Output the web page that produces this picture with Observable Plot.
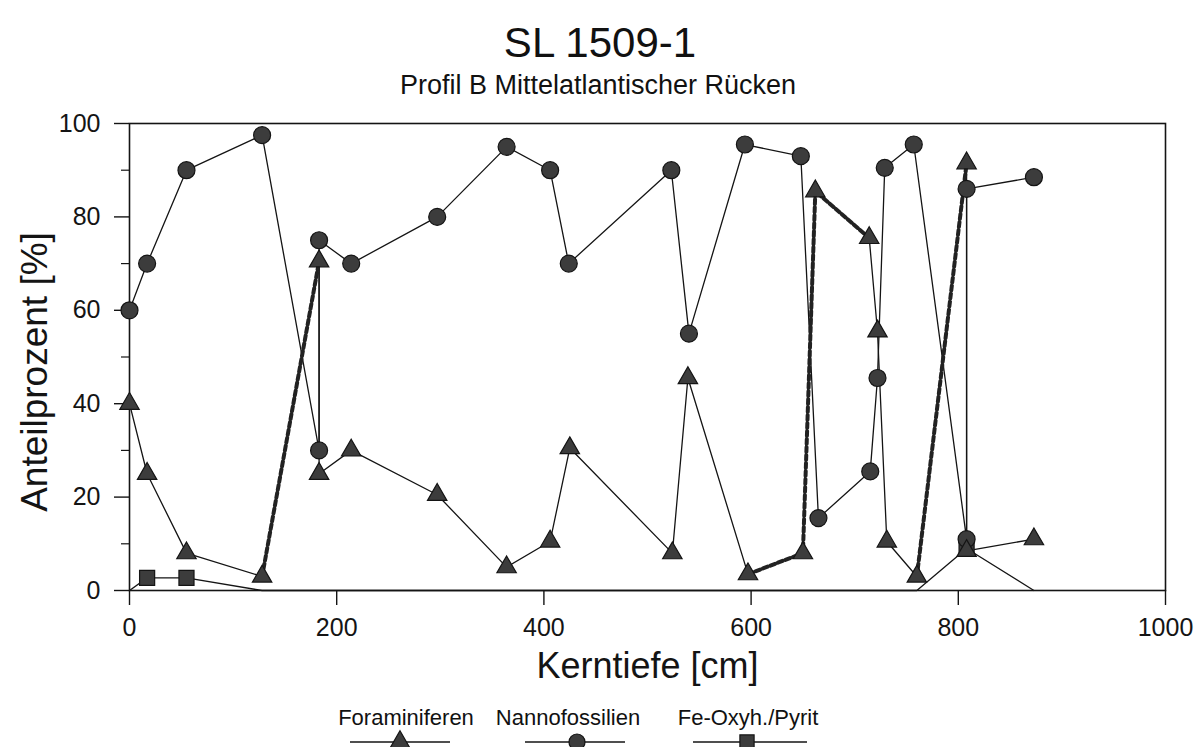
<!DOCTYPE html>
<html><head><meta charset="utf-8">
<script src="https://cdn.jsdelivr.net/npm/d3@7"></script>
<script src="https://cdn.jsdelivr.net/npm/@observablehq/plot@0.6"></script>
<style>
html,body{margin:0;padding:0;background:#fff;}
#wrap{position:relative;width:1200px;height:747px;overflow:hidden;font-family:"Liberation Sans",Arial,sans-serif;color:#111;}
#wrap svg{position:absolute;left:0;top:0;}
.t{position:absolute;white-space:nowrap;line-height:1;transform:translateX(-50%);}
</style></head><body><div id="wrap"></div>
<script>
// ---- data ----
const title = "SL 1509-1";
const subtitle = "Profil B Mittelatlantischer Rücken";
const xLabel = "Kerntiefe [cm]";
const yLabel = "Anteilprozent [%]";
const xTicks = [0, 200, 400, 600, 800, 1000];
const yTicks = [0, 20, 40, 60, 80, 100];
const yMinorTicks = [10, 30, 50, 70, 90];
const seriesNames = ["Foraminiferen", "Nannofossilien", "Fe-Oxyh./Pyrit"];

const foramDepth = [0, 17, 55, 128, 183, 183, 214, 297, 364, 406, 425, 524, 539, 597, 650, 662, 714, 722, 731, 760, 808, 808, 873];
const foramValue = [40, 25, 8, 3, 70.5, 25, 30, 20.5, 5, 10.5, 30.5, 8, 45.5, 3.5, 8, 85.5, 75.5, 55.5, 10.5, 3, 91.5, 8.5, 11];
// segments of the Foraminiferen curve drawn as a heavy dashed line (index ranges)
const foramDashedRuns = [[3, 4], [13, 16], [19, 20]];

const nannoDepth = [0, 17, 55, 128, 183, 183, 214, 297, 364, 406, 424, 523, 540, 594, 648, 665, 715, 722, 729, 757, 808, 808, 873];
const nannoValue = [60, 70, 90, 97.5, 30, 75, 70, 80, 95, 90, 70, 90, 55, 95.5, 93, 15.5, 25.5, 45.5, 90.5, 95.5, 11, 86, 88.5];

const feDepth = [0, 17, 55, 128, 760, 808, 873];
const feValue = [0, 2.7, 2.7, 0, 0, 9, 0];

// ---- rows ----
const foramRows = foramDepth.map((d, i) => ({depth: d, value: foramValue[i]}));
const nannoRows = nannoDepth.map((d, i) => ({depth: d, value: nannoValue[i]}));
const feRows = feDepth.map((d, i) => ({depth: d, value: feValue[i]}));
const dashedRows = foramDashedRuns.flatMap(([a, b], k) => foramRows.slice(a, b + 1).map(r => ({...r, run: k})));

const ink = "#141414";
const markFill = "#3c3c3c";
const font = '"Liberation Sans", Arial, Helvetica, sans-serif';

const chart = Plot.plot({
  width: 1200, height: 700,
  marginTop: 123, marginBottom: 110, marginLeft: 129, marginRight: 35,
  x: {domain: [0, 1000]},
  y: {domain: [0, 100]},
  style: {fontFamily: font, fontSize: "25px", color: ink, background: "transparent", overflow: "visible"},
  marks: [
    Plot.frame({stroke: ink, strokeWidth: 1.6}),
    Plot.axisX({ticks: xTicks, tickSize: 15, tickPadding: 13, tickFormat: d => String(d), label: null, fontSize: 25, strokeWidth: 1.4}),
    Plot.axisY({ticks: yTicks, tickSize: 15, tickPadding: 14, tickFormat: d => String(d), label: null, fontSize: 25, strokeWidth: 1.4}),
    Plot.axisY({ticks: yMinorTicks, tickSize: 8, tickFormat: () => "", label: null, strokeWidth: 1.2}),
    Plot.line(feRows, {x: "depth", y: "value", stroke: ink, strokeWidth: 1.3}),
    Plot.line(nannoRows, {x: "depth", y: "value", stroke: ink, strokeWidth: 1.3}),
    Plot.line(foramRows, {x: "depth", y: "value", stroke: ink, strokeWidth: 1.3}),
    Plot.line(dashedRows, {x: "depth", y: "value", z: "run", stroke: "#222", strokeWidth: 4, strokeDasharray: "5,3"}),
    Plot.dot(feRows.filter(d => d.value > 0), {x: "depth", y: "value", symbol: "square", r: 8.5, fill: markFill, stroke: ink, strokeWidth: 1.2}),
    Plot.dot(nannoRows, {x: "depth", y: "value", symbol: "circle", r: 8.5, fill: markFill, stroke: ink, strokeWidth: 1.2}),
    Plot.dot(foramRows, {x: "depth", y: "value", symbol: "triangle", r: 7.2, fill: markFill, stroke: ink, strokeWidth: 1.2}),
    Plot.text([xLabel], {frameAnchor: "bottom", dy: 87, fontSize: 36, fill: ink}),
    Plot.text([yLabel], {frameAnchor: "left", textAnchor: "middle", dx: -94, dy: 15, rotate: -90, fontSize: 37, fill: ink})
  ]
});

const wrap = document.getElementById("wrap");
wrap.appendChild(chart);

function addText(txt, x, top, size) {
  const d = document.createElement("div");
  d.className = "t";
  d.textContent = txt;
  d.style.left = x + "px";
  d.style.top = top + "px";
  d.style.fontSize = size + "px";
  wrap.appendChild(d);
}
addText(title, 600, 22, 42);
addText(subtitle, 598, 72, 27);

// legend
const legendCenters = [406, 568, 748];
const legendLines = [[350, 450, 400], [525, 625, 577], [693, 807, 747]];
const legendSymbols = ["triangle", "circle", "square"];
seriesNames.forEach((n, i) => addText(n, legendCenters[i], 707, 22));
const NS = "http://www.w3.org/2000/svg";
const lg = document.createElementNS(NS, "svg");
lg.setAttribute("width", 1200); lg.setAttribute("height", 47);
lg.style.top = "700px";
legendLines.forEach(([x1, x2, xm], i) => {
  const ln = document.createElementNS(NS, "line");
  ln.setAttribute("x1", x1); ln.setAttribute("x2", x2); ln.setAttribute("y1", 42); ln.setAttribute("y2", 42);
  ln.setAttribute("stroke", ink); ln.setAttribute("stroke-width", 1.3);
  lg.appendChild(ln);
  const p = document.createElementNS(NS, "path");
  const sym = {triangle: d3.symbolTriangle, circle: d3.symbolCircle, square: d3.symbolSquare}[legendSymbols[i]];
  const r = legendSymbols[i] === "triangle" ? 7.2 : 8;
  p.setAttribute("d", d3.symbol(sym, r * r * Math.PI)());
  p.setAttribute("transform", `translate(${xm},42)`);
  p.setAttribute("fill", markFill); p.setAttribute("stroke", ink); p.setAttribute("stroke-width", 1.2);
  lg.appendChild(p);
});
wrap.appendChild(lg);
</script>
</body></html>
